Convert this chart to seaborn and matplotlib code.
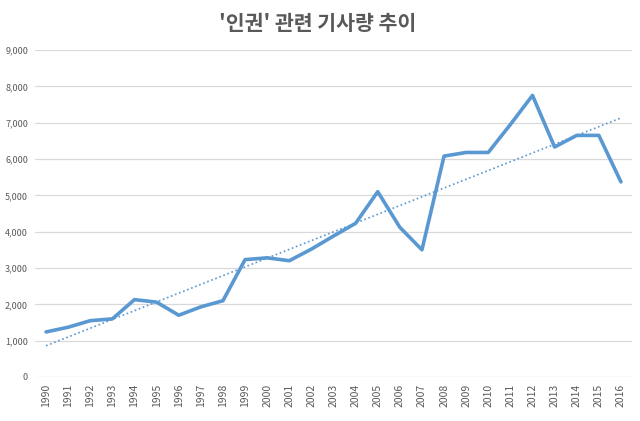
import numpy as np
import pandas as pd
import matplotlib
matplotlib.use("Agg")
import matplotlib.pyplot as plt
import seaborn as sns

years = list(range(1990, 2017))
counts = [1240, 1370, 1550, 1600, 2130, 2060, 1700, 1930, 2100, 3230,
          3280, 3200, 3520, 3880, 4230, 5100, 4120, 3500, 6080, 6180,
          6180, 6950, 7750, 6330, 6650, 6650, 5370]
title = "'인권' 관련 기사량 추이"
yticks = [0, 1000, 2000, 3000, 4000, 5000, 6000, 7000, 8000, 9000]

sns.set_theme(style="white")
plt.rcParams['font.family'] = ['Noto Sans CJK KR', 'DejaVu Sans']

df = pd.DataFrame({"pos": np.arange(len(years)), "count": counts})
coef = np.polyfit(df["pos"], df["count"], 1)
df["trend"] = np.polyval(coef, df["pos"])

fig = plt.figure(figsize=(6.4, 4.21), dpi=100)
ax = fig.add_axes([35/640, 44/421, 597/640, 327/421])

blue = "#5A98D2"
sns.lineplot(data=df, x="pos", y="trend", ax=ax, color=blue, lw=1.2,
             linestyle=(0, (1, 1.6)))
sns.lineplot(data=df, x="pos", y="count", ax=ax, color=blue, lw=2.6)

ax.set_xlim(-0.5, len(years) - 0.5)
ax.set_ylim(0, 9000)
ax.set_yticks(yticks)
ax.set_yticklabels([f"{v:,}" for v in yticks], fontsize=6.5, color="#595959")
ax.set_xticks(df["pos"])
ax.set_xticklabels([str(y) for y in years], rotation=90, fontsize=7.5,
                   color="#595959")
ax.tick_params(axis="both", length=0)
ax.tick_params(axis="x", pad=5)
ax.tick_params(axis="y", pad=5)
ax.grid(axis="y", color="#D9D9D9", lw=0.9)
ax.set_axisbelow(True)
for s in ax.spines.values():
    s.set_visible(False)
ax.set_xlabel("")
ax.set_ylabel("")
fig.text(317.5/640, 1 - 24/421, title, ha="center", va="center", fontsize=14.8,
         fontweight="bold", color="#595959")
fig.savefig("out.png", dpi=100)
